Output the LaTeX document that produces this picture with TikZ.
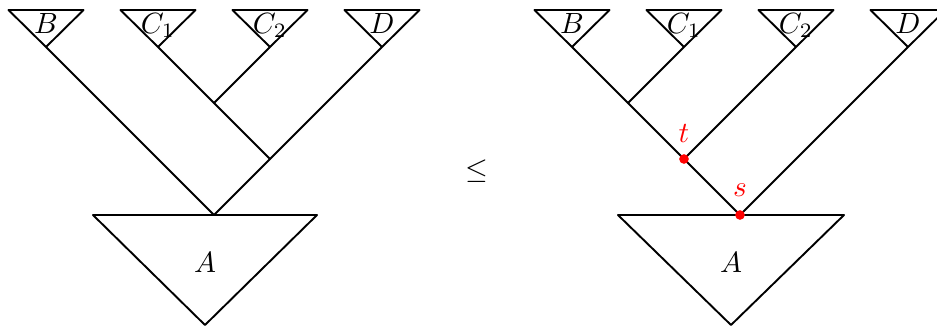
\documentclass[tikz,border=0pt]{standalone}
\usetikzlibrary{calc}
\begin{document}
\begin{tikzpicture}[x=0.3415pt,y=-0.3415pt,
  edge/.style={line width=0.65pt,line cap=round,line join=round},
  dot/.style={circle,fill=red,inner sep=0pt,minimum size=3.3pt},
  lbl/.style={anchor=base,inner sep=0pt},
  redlbl/.style={red,inner sep=0pt}]
\useasboundingbox (0,0) rectangle (937,327);
\clip (0,0) rectangle (937,327);
% ---------- left tree ----------
\foreach \n/\x in {lB/46,lCa/158,lCb/270,lD/382}{
  \coordinate (\n) at (\x,47);
  \draw[edge] (\x-37.5,10) -- (\x+37.5,10) -- (\n) -- cycle;
}
\node[lbl] (labB1) at (46,33) {$B$};
\node[lbl] (labCa1) at (158,33) {$C_1$};
\node[lbl] (labCb1) at (270,33) {$C_2$};
\node[lbl] (labD1) at (382,33) {$D$};
\coordinate (lc) at (214,103);
\coordinate (le) at (270,159);
\coordinate (lr) at (214,215);
\draw[edge] (lCa) -- (lc);
\draw[edge] (lCb) -- (lc);
\draw[edge] (lc) -- (le);
\draw[edge] (lD) -- (le);
\draw[edge] (le) -- (lr);
\draw[edge] (lB) -- (lr);
\draw[edge] (93,215) -- (317,215) -- (205,325) -- cycle;
\node[lbl] (labA1) at (205,272) {$A$};
% ---------- relation ----------
\node (leq) at (477,171) {$\leq$};
% ---------- right tree ----------
\foreach \n/\x in {rB/572,rCa/684,rCb/796,rD/908}{
  \coordinate (\n) at (\x,47);
  \draw[edge] (\x-37.5,10) -- (\x+37.5,10) -- (\n) -- cycle;
}
\node[lbl] (labB2) at (572,33) {$B$};
\node[lbl] (labCa2) at (684,33) {$C_1$};
\node[lbl] (labCb2) at (796,33) {$C_2$};
\node[lbl] (labD2) at (908,33) {$D$};
\coordinate (rb) at (628,103);
\coordinate (rt) at (684,159);
\coordinate (rs) at (740,215);
\draw[edge] (rB) -- (rb);
\draw[edge] (rCa) -- (rb);
\draw[edge] (rb) -- (rt);
\draw[edge] (rCb) -- (rt);
\draw[edge] (rt) -- (rs);
\draw[edge] (rD) -- (rs);
\draw[edge] (618,215) -- (844,215) -- (731,325) -- cycle;
\node[lbl] (labA2) at (731,272) {$A$};
\node[dot] (t) at (rt) {};
\node[dot] (s) at (rs) {};
\node[redlbl] (tl) at (684,133) {$t$};
\node[redlbl] (sl) at (740,190) {$s$};
\end{tikzpicture}
\end{document}
